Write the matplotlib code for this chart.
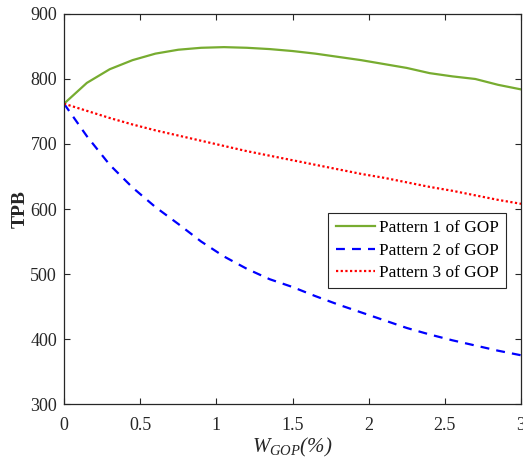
import matplotlib
matplotlib.use("Agg")
import matplotlib.pyplot as plt

# GOP weight (%) and resulting TPB for the three patterns
w_gop = [0.0, 0.15, 0.3, 0.45, 0.6, 0.75, 0.9, 1.05, 1.2, 1.35, 1.5,
         1.65, 1.8, 1.95, 2.1, 2.25, 2.4, 2.55, 2.7, 2.85, 3.0]
tpb_p1 = [762, 794, 815, 829, 839, 845, 848, 849, 848, 846, 843,
          839, 834, 829, 823, 817, 809, 804, 800, 791, 784]
tpb_p2 = [762, 712, 668, 633, 603, 577, 550, 527, 508, 492, 480,
          466, 453, 441, 429, 417, 407, 398, 390, 382, 375]
tpb_p3 = [762, 751, 740, 730, 721, 713, 705, 697, 689, 682, 675,
          668, 661, 654, 648, 641, 634, 628, 621, 614, 608]

x_ticks = [0, 0.5, 1, 1.5, 2, 2.5, 3]
x_tick_labels = ["0", "0.5", "1", "1.5", "2", "2.5", "3"]
y_ticks = [300, 400, 500, 600, 700, 800, 900]

plt.rcParams["font.family"] = ["Liberation Serif", "DejaVu Serif"]
plt.rcParams["mathtext.fontset"] = "custom"
plt.rcParams["mathtext.rm"] = "Liberation Serif"
plt.rcParams["mathtext.it"] = "Liberation Serif:italic"

axis_col = "#262626"

fig = plt.figure(figsize=(5.23, 4.66), dpi=100)
ax = fig.add_axes([0.1224, 0.133, 0.8738, 0.837])

ax.plot(w_gop, tpb_p1, color="#77AC30", lw=1.6, label="Pattern 1 of GOP")
ax.plot(w_gop, tpb_p2, color="blue", lw=1.6, linestyle=(0, (4, 3.2)),
        label="Pattern 2 of GOP")
ax.plot(w_gop, tpb_p3, color="red", lw=1.6, linestyle=(0, (1, 1.1)),
        label="Pattern 3 of GOP")

ax.set_xlim(0, 3)
ax.set_ylim(300, 900)
ax.set_xticks(x_ticks)
ax.set_xticklabels(x_tick_labels)
ax.set_yticks(y_ticks)

ax.tick_params(direction="in", length=4, width=0.8, colors=axis_col,
               labelsize=13, top=True, right=True)
ax.tick_params(axis="x", pad=9)
ax.tick_params(axis="y", pad=5)
for s in ax.spines.values():
    s.set_color(axis_col)
    s.set_linewidth(0.9)

ax.set_ylabel("TPB", fontsize=14, fontweight="bold", color=axis_col, labelpad=1)
ax.set_xlabel(r"$W_{GOP}$(%)", fontsize=15, style="italic", color=axis_col,
              labelpad=2)

leg = ax.legend(loc="upper right", bbox_to_anchor=(0.9665, 0.4905),
                borderaxespad=0, fontsize=12.4, fancybox=False,
                handlelength=2.3, handletextpad=0.2, labelspacing=0.38,
                borderpad=0.42, framealpha=1)
leg.get_frame().set_edgecolor(axis_col)
leg.get_frame().set_linewidth(0.8)

plt.savefig("out.png", dpi=100)
